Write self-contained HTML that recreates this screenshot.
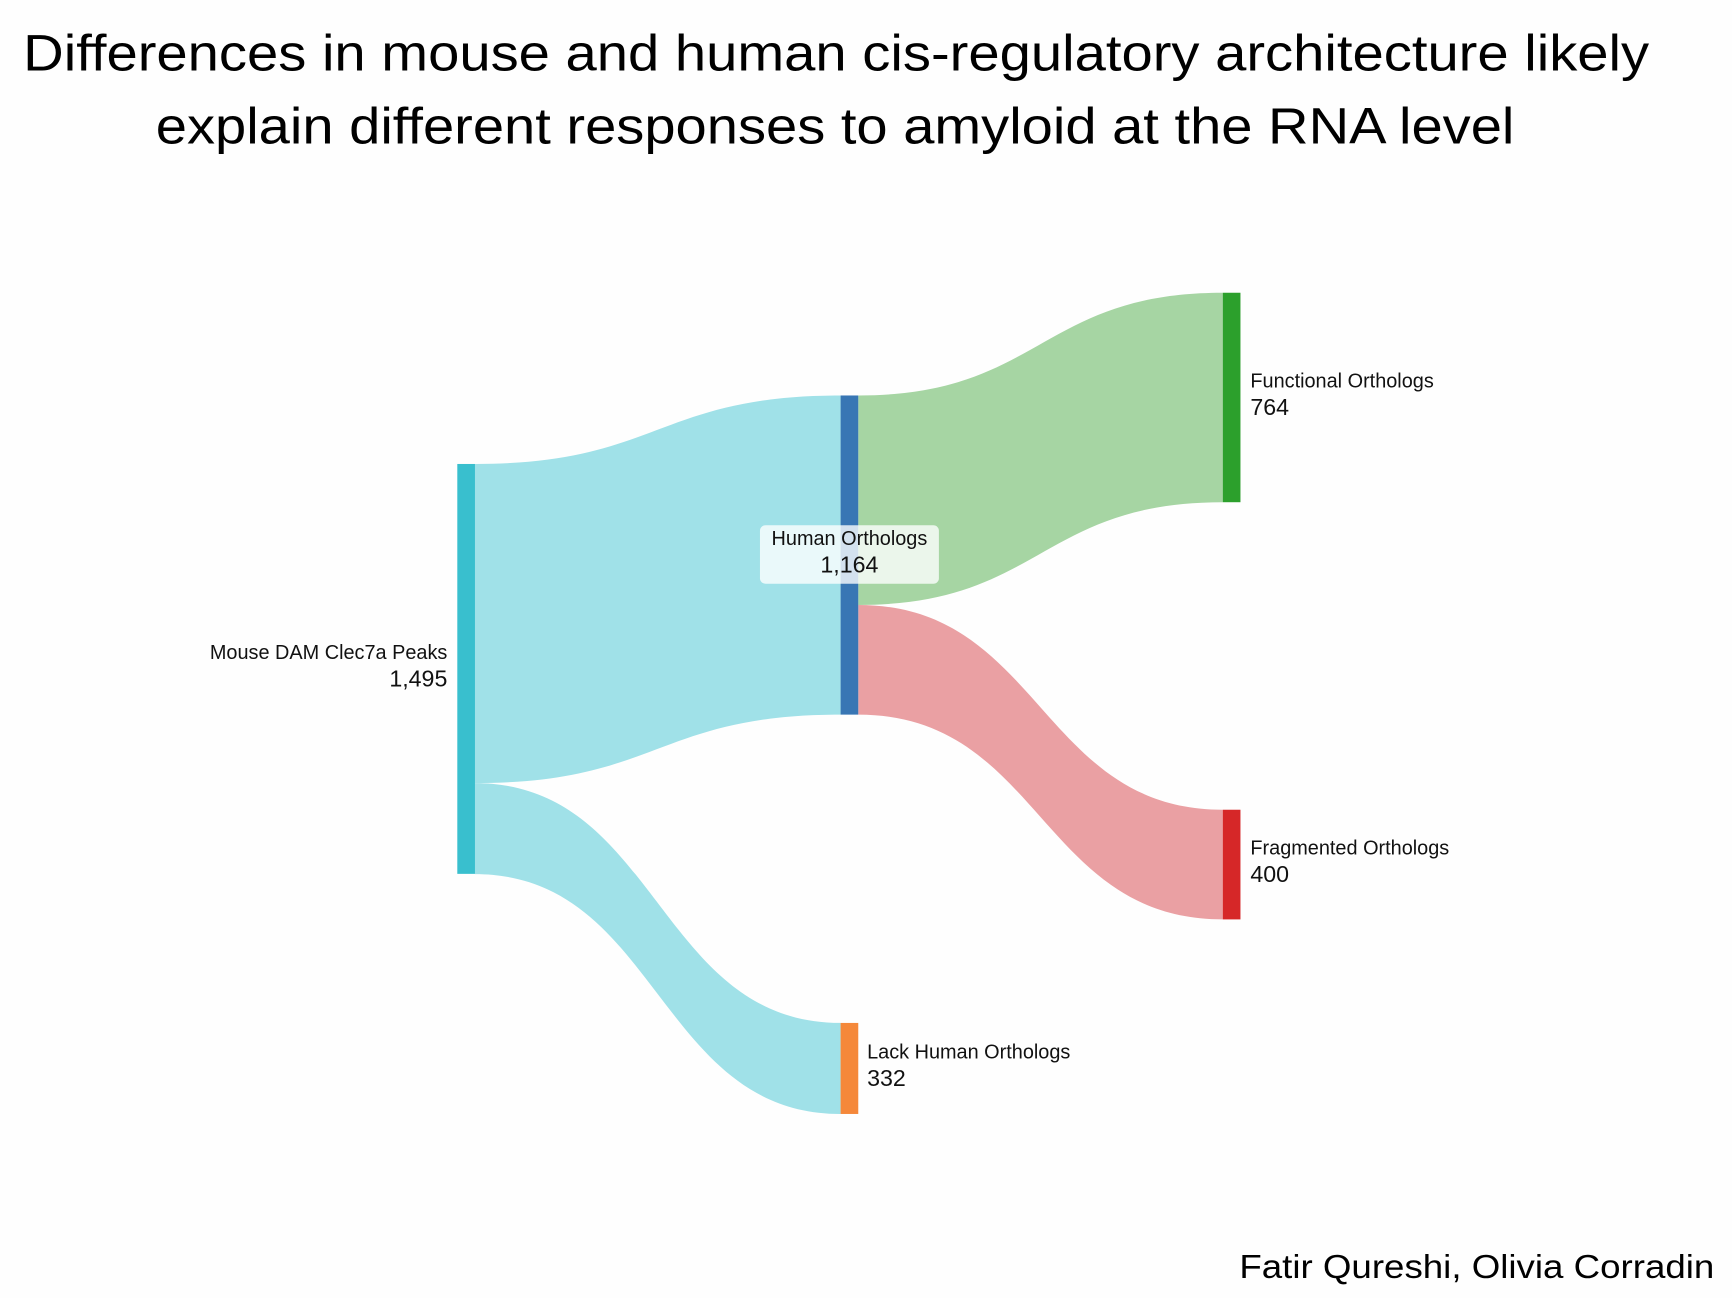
<!DOCTYPE html>
<html><head><meta charset="utf-8">
<style>
html,body{margin:0;padding:0;background:#fff;}
svg{display:block;}
text{font-family:"Liberation Sans",sans-serif;fill:#111;}
</style></head>
<body>
<svg id="chart" width="1732" height="1298" viewBox="0 0 1568 1175" preserveAspectRatio="none" xmlns="http://www.w3.org/2000/svg">
<rect width="1568" height="1175" fill="#fefefe"/>
<text x="757" y="64" text-anchor="middle" font-size="46" textLength="1472" lengthAdjust="spacingAndGlyphs" style="fill:#000">Differences in mouse and human cis-regulatory architecture likely</text>
<text x="756" y="130" text-anchor="middle" font-size="46" textLength="1230" lengthAdjust="spacingAndGlyphs" style="fill:#000">explain different responses to amyloid at the RNA level</text>
<text x="1552" y="1157" text-anchor="end" font-size="30" textLength="430" lengthAdjust="spacingAndGlyphs" style="fill:#000">Fatir Qureshi, Olivia Corradin</text>
<g id="links"></g>
<g id="nodes"></g>
<g id="labels"></g>
</svg>
<script>
const nodeNames = ["Mouse DAM Clec7a Peaks","Human Orthologs","Lack Human Orthologs","Functional Orthologs","Fragmented Orthologs"];
const nodeValues = [1495,1164,332,764,400];
const linkSources = [0,0,1,1];
const linkTargets = [1,2,3,4];
const linkValues = [1164,332,764,400];

const NS="http://www.w3.org/2000/svg";
const k = 0.2482;
const nodeX = [414,761,761,1107,1107];
const nodeTop = [420,358,926,265,733];
const nodeColors = ["#39bfce","#3876b4","#f5883a","#2ca02c","#d62728"];
const linkColors = ["#a0e1e8","#a0e1e8","#a6d5a3","#eaa0a3"];
const nodeW = 16;
const nodeKeys = ["mouse","human","lack","functional","fragmented"];

const gl=document.getElementById('links'), gn=document.getElementById('nodes'), gt=document.getElementById('labels');
const outOff=[0,0,0,0,0], inOff=[0,0,0,0,0];
for(let i=0;i<linkValues.length;i++){
  const s=linkSources[i], t=linkTargets[i], h=linkValues[i]*k;
  const x0=nodeX[s]+nodeW, x1=nodeX[t];
  const y0=nodeTop[s]+outOff[s], y1=nodeTop[t]+inOff[t];
  outOff[s]+=h; inOff[t]+=h;
  const xm=(x0+x1)/2;
  const d=`M${x0},${y0} C${xm},${y0} ${xm},${y1} ${x1},${y1} L${x1},${y1+h} C${xm},${y1+h} ${xm},${y0+h} ${x0},${y0+h} Z`;
  const p=document.createElementNS(NS,'path');
  p.setAttribute('d',d); p.setAttribute('fill',linkColors[i]);
  
  
  gl.appendChild(p);
}
for(let i=0;i<nodeValues.length;i++){
  const r=document.createElementNS(NS,'rect');
  r.setAttribute('x',nodeX[i]); r.setAttribute('y',nodeTop[i]);
  r.setAttribute('width',nodeW); r.setAttribute('height',nodeValues[i]*k);
  r.setAttribute('fill',nodeColors[i]);
  
  
  gn.appendChild(r);
}
function fmt(v){return v.toLocaleString('en-US');}
function label(i,x,anchor,dy){
  const mid=nodeTop[i]+nodeValues[i]*k/2+(dy||0);
  const g=document.createElementNS(NS,'g');
  
  
  const t1=document.createElementNS(NS,'text');
  t1.setAttribute('x',x); t1.setAttribute('y',mid-9); t1.setAttribute('font-size','18'); t1.setAttribute('text-anchor',anchor);
  t1.textContent=nodeNames[i];
  const t2=document.createElementNS(NS,'text');
  t2.setAttribute('x',x); t2.setAttribute('y',mid+16); t2.setAttribute('font-size','21'); t2.setAttribute('text-anchor',anchor);
  t2.textContent=fmt(nodeValues[i]);
  g.appendChild(t1); g.appendChild(t2); gt.appendChild(g);
  return mid;
}
label(0,405,'end',0);
(function(){
  const mid=nodeTop[1]+nodeValues[1]*k/2;
  const b=document.createElementNS(NS,'rect');
  b.setAttribute('x',688); b.setAttribute('y',mid-27); b.setAttribute('width',162); b.setAttribute('height',53);
  b.setAttribute('rx',5); b.setAttribute('fill','rgba(255,255,255,0.78)');
  
  
  gt.appendChild(b);
})();
label(1,769,'middle',0);
label(2,785,'start',0);
label(3,1132,'start',0);
label(4,1132,'start',0);
</script>
</body></html>
